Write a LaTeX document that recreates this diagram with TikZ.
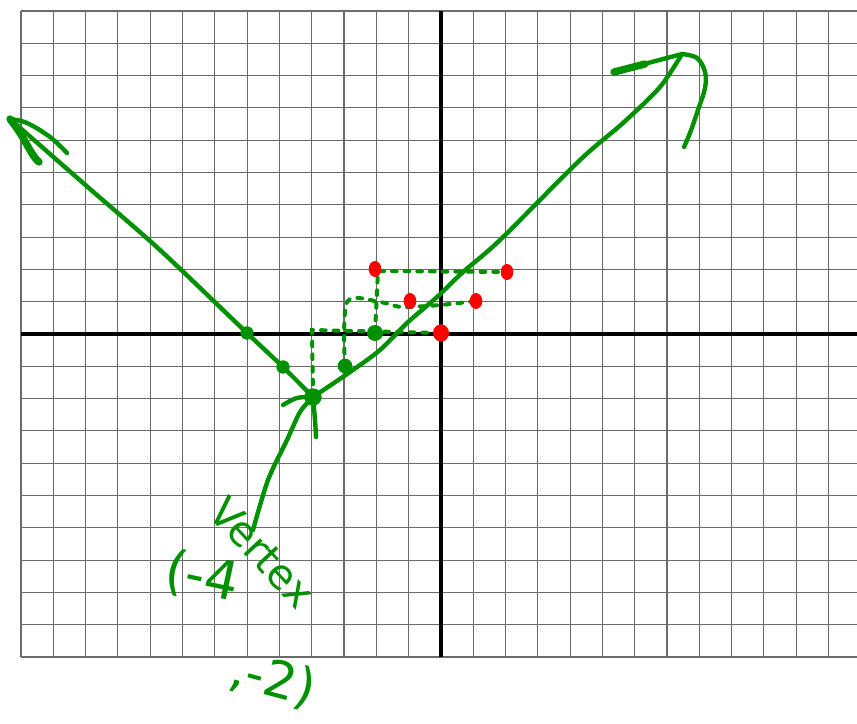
\documentclass[tikz,border=0pt]{standalone}
\usepackage{fontspec}
\setsansfont{DejaVu Sans}
\usetikzlibrary{shapes.geometric}
\definecolor{pen}{RGB}{0,145,0}
\definecolor{reddot}{RGB}{255,0,0}
\tikzset{
  gridline/.style={draw=black!58, line width=0.8pt},
  axisline/.style={draw=black, line width=3.7pt},
  pen/.style={draw=pen, line width=3.3pt, line cap=round, line join=round},
  penthick/.style={draw=pen, line width=5.5pt, line cap=round, line join=round},
  dotpen/.style={draw=pen, line width=3pt, line cap=round, dash pattern=on 3.5pt off 6pt},
  gdot/.style={circle, fill=pen, inner sep=0pt, minimum size=#1},
  rdot/.style={ellipse, fill=reddot, inner sep=0pt, minimum width=9.5pt, minimum height=12pt},
  hand/.style={text=pen, inner sep=0pt, font=\sffamily\fontsize{#1}{#1}\selectfont},
}
\begin{document}
\begin{tikzpicture}[x=0.75pt,y=-0.75pt]
\useasboundingbox (0,0) rectangle (857,724);
% grid
\foreach \i in {0,...,25} \draw[gridline] ({21+\i*32.3},11) -- ({21+\i*32.3},657);
\foreach \j in {0,...,20} \draw[gridline] (21,{11+\j*32.3}) -- (857,{11+\j*32.3});
% axes
\draw[axisline] (21,334) -- (857,334);
\draw[axisline] (441,11) -- (441,657);

% key points
\coordinate (V) at (313,397);
\coordinate (L1) at (283,367);
\coordinate (L2) at (247,333);
\coordinate (R1) at (345,366);
\coordinate (R2) at (375,333);
\coordinate (TL) at (10,119);
\coordinate (TR) at (682,54);
\coordinate (Q0) at (441,333);
\coordinate (Q1) at (410,301);
\coordinate (Q2) at (476,301);
\coordinate (Q3) at (507,272);
\coordinate (Q4) at (375,269);
\coordinate (C1) at (312,330);
\coordinate (C2) at (347,302);
\coordinate (C3) at (378,271);
\coordinate (W) at (253,530);

% dashed construction lines
\draw[dotpen] (V) -- (C1) -- (Q0);
\draw[dotpen] plot[smooth, tension=0.5] coordinates {(R1) (C2) (380,302) (402,307) (440,305) (Q2)};
\draw[dotpen] (R2) -- (C3) -- (Q3);

% left branch with arrowhead
\draw[pen] plot[smooth, tension=0.5] coordinates {(V) (L1) (L2) (160,250) (90,189) (TL)};
\draw[pen] plot[smooth, tension=0.6] coordinates {(TL) (27,123) (50,137) (67,153)};
\draw[penthick] plot[smooth, tension=0.6] coordinates {(TL) (20,133) (33,155) (39,162)};

% right branch with arrowhead
\draw[pen] plot[smooth, tension=0.5] coordinates {(V) (350,372) (380,350) (407,323) (437,297) (463,272) (500,240) (580,160) (623,123) (660,87) (TR)};
\draw[penthick] (614,72) -- (645,64);
\draw[pen] (614,72) -- (TR);
\draw[pen] plot[smooth, tension=0.6] coordinates {(TR) (697,58) (705,72) (705,88) (698,110) (690,133) (684,147)};

% label arrow
\draw[pen] plot[smooth, tension=0.5] coordinates {(W) (268,480) (287,440) (300,412) (V)};
\draw[pen] plot[smooth, tension=0.6] coordinates {(283,405) (297,398) (V)};
\draw[pen] plot[smooth, tension=0.6] coordinates {(V) (315,420) (316,437)};

% dots
\node[gdot=13pt] (v) at (V) {};
\node[gdot=10pt] (l1) at (L1) {};
\node[gdot=10pt] (l2) at (L2) {};
\node[gdot=11pt] (r1) at (R1) {};
\node[gdot=12pt] (r2) at (R2) {};
\node[rdot, minimum width=12pt, minimum height=13pt] (q0) at (Q0) {};
\node[rdot] (q1) at (Q1) {};
\node[rdot] (q2) at (Q2) {};
\node[rdot] (q3) at (Q3) {};
\node[rdot] (q4) at (Q4) {};

% handwritten label
\node[hand=31, rotate=-47] (t1) at (263,553) {Vertex};
\node[hand=40, rotate=-12] (t2) at (202,578) {(-4};
\node[hand=38, rotate=-15] (t3) at (273,680) {,-2)};
\end{tikzpicture}
\end{document}
